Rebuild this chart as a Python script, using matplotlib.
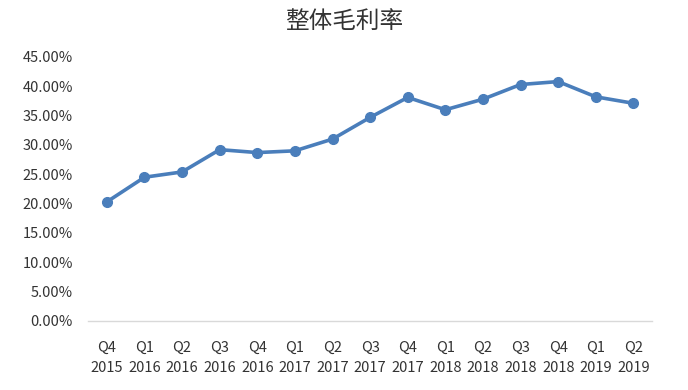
import matplotlib
matplotlib.use("Agg")
import matplotlib.pyplot as plt
from matplotlib.ticker import FuncFormatter, MultipleLocator

plt.rcParams['font.family'] = ['Noto Sans CJK SC', 'DejaVu Sans']

quarters = ["Q4", "Q1", "Q2", "Q3", "Q4", "Q1", "Q2", "Q3", "Q4", "Q1", "Q2", "Q3", "Q4", "Q1", "Q2"]
years = ["2015", "2016", "2016", "2016", "2016", "2017", "2017", "2017", "2017", "2018", "2018", "2018", "2018", "2019", "2019"]
margin = [0.203, 0.245, 0.254, 0.292, 0.287, 0.290, 0.310, 0.347, 0.381, 0.360, 0.378, 0.403, 0.408, 0.382, 0.371]

labels = [q + "\n" + y for q, y in zip(quarters, years)]
x = list(range(len(margin)))

fig = plt.figure(figsize=(6.88, 3.9), dpi=100)
ax = fig.add_axes([0.128, 0.177, 0.82, 0.677])

ax.plot(x, margin, color='#4a7ebb', linewidth=2.6, marker='o', markersize=7)

ax.set_xlim(-0.5, len(margin) - 0.5)
ax.set_ylim(0, 0.45)
ax.yaxis.set_major_locator(MultipleLocator(0.05))
ax.yaxis.set_major_formatter(FuncFormatter(lambda v, p: "%.2f%%" % (v * 100)))
ax.set_xticks(x)
ax.set_xticklabels(labels, fontsize=10.5, color='#333333', linespacing=1.6)
ax.tick_params(axis='y', labelsize=10.5, colors='#333333', length=0, pad=11)
ax.tick_params(axis='x', length=0, pad=14)

for s in ['top', 'right', 'left']:
    ax.spines[s].set_visible(False)
ax.spines['bottom'].set_color('#d9d9d9')
ax.spines['bottom'].set_linewidth(1)

fig.suptitle("整体毛利率", fontsize=17, color='#333333', y=0.975)

fig.savefig("out.png", dpi=100)
